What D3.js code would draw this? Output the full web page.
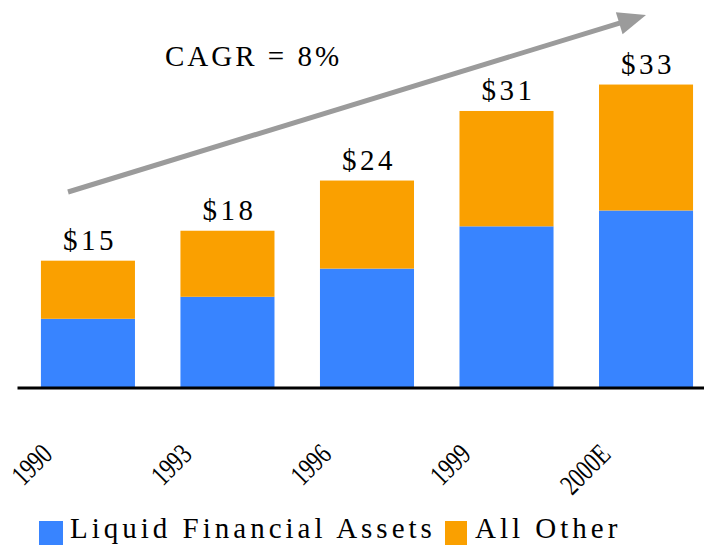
<!DOCTYPE html>
<html>
<head>
<meta charset="utf-8">
<script src="https://cdn.jsdelivr.net/npm/d3@7"></script>
<style>
	body { margin: 0; background: #fff; }
</style>
</head>
<body>
<div id="vis"></div>
<script>
const FRAME_WIDTH = 704;
const FRAME_HEIGHT = 545;
const BASELINE = 387.5;
const SERIF = "'Liberation Serif', 'Times New Roman', Times, serif";

// data
const YEARS = ["1990", "1993", "1996", "1999", "2000E"];
const LIQUID = [7.8, 10.3, 13.5, 18.3, 20.1];
const OTHER = [6.6, 7.5, 10.0, 13.1, 14.3];
const TOTAL_LABELS = ["$15", "$18", "$24", "$31", "$33"];
const SERIES = ["Liquid Financial Assets", "All Other"];
const COLORS = ["#3884FF", "#FAA000"];
const CAGR_LABEL = "CAGR = 8%";

const FRAME = d3.select("#vis")
	.append("svg")
	.attr("width", FRAME_WIDTH)
	.attr("height", FRAME_HEIGHT)
	.style("font-family", SERIF);

const rows = YEARS.map((y, i) => ({ year: y, liquid: LIQUID[i], other: OTHER[i], label: TOTAL_LABELS[i] }));
const stacked = d3.stack().keys(["liquid", "other"])(rows);

const X_SCALE = d3.scaleBand()
	.domain(YEARS)
	.range([17, 704])
	.paddingInner(0.326)
	.paddingOuter(0.125)
	.align(0.686);

const Y_SCALE = d3.scaleLinear()
	.domain([0, 44])
	.range([BASELINE, 0]);

// bars
FRAME.selectAll(".layer")
	.data(stacked)
	.enter()
	.append("g")
	.attr("fill", (d, i) => COLORS[i])
	.selectAll("rect")
	.data((d) => d)
	.enter()
	.append("rect")
	.attr("x", (d) => X_SCALE(d.data.year))
	.attr("y", (d) => Y_SCALE(d[1]))
	.attr("width", X_SCALE.bandwidth())
	.attr("height", (d) => Y_SCALE(d[0]) - Y_SCALE(d[1]));

// total labels
FRAME.selectAll(".total")
	.data(rows)
	.enter()
	.append("text")
	.attr("x", (d) => X_SCALE(d.year) + X_SCALE.bandwidth() / 2 + 2)
	.attr("y", (d) => Y_SCALE(d.liquid + d.other) - 11)
	.attr("text-anchor", "middle")
	.style("font-family", SERIF)
	.style("font-size", "29px")
	.style("letter-spacing", "3.5px")
	.text((d) => d.label);

// x axis
const X_AXIS = FRAME.append("g")
	.attr("transform", `translate(0, ${BASELINE})`)
	.call(d3.axisBottom(X_SCALE).tickSize(0).tickSizeOuter(0));

X_AXIS.attr("font-family", null);

X_AXIS.select(".domain")
	.attr("stroke", "#000")
	.attr("stroke-width", 3);

// condensed, rotated year labels
X_AXIS.selectAll(".tick text")
	.attr("font-size", null)
	.style("font-family", SERIF)
	.style("font-size", "29px")
	.attr("fill", "#000")
	.attr("text-anchor", "end")
	.attr("dy", null)
	.attr("y", 0)
	.attr("transform", `translate(${-34}, ${456 - BASELINE}) rotate(-45) scale(0.75, 1)`);

// CAGR arrow
const ARROW_START = [68, 192];
const ARROW_TIP = [646, 15];
const dx = ARROW_TIP[0] - ARROW_START[0];
const dy = ARROW_TIP[1] - ARROW_START[1];
const len = Math.sqrt(dx * dx + dy * dy);
const ux = dx / len, uy = dy / len;
const HEAD_LEN = 28, HEAD_HALF = 11.5;
const base = [ARROW_TIP[0] - ux * HEAD_LEN, ARROW_TIP[1] - uy * HEAD_LEN];

FRAME.append("line")
	.attr("x1", ARROW_START[0])
	.attr("y1", ARROW_START[1])
	.attr("x2", base[0] + ux * 2)
	.attr("y2", base[1] + uy * 2)
	.attr("stroke", "#9b9b9b")
	.attr("stroke-width", 5);

FRAME.append("polygon")
	.attr("points", [
		ARROW_TIP,
		[base[0] - uy * HEAD_HALF, base[1] + ux * HEAD_HALF],
		[base[0] + uy * HEAD_HALF, base[1] - ux * HEAD_HALF]
	].map((p) => p.join(",")).join(" "))
	.attr("fill", "#9b9b9b");

FRAME.append("text")
	.attr("x", 165)
	.attr("y", 66)
	.style("font-family", SERIF)
	.style("font-size", "29px")
	.style("letter-spacing", "3px")
	.text(CAGR_LABEL);

// legend
const LEGEND_X = [39, 445];
const legend = FRAME.selectAll(".legend")
	.data(SERIES)
	.enter()
	.append("g")
	.attr("transform", (d, i) => `translate(${LEGEND_X[i]}, 521)`);

legend.append("rect")
	.attr("width", (d, i) => i === 0 ? 24 : 22)
	.attr("height", 24)
	.attr("fill", (d, i) => COLORS[i]);

legend.append("text")
	.attr("x", (d, i) => i === 0 ? 31 : 30)
	.attr("y", 17)
	.style("font-family", SERIF)
	.style("font-size", "29px")
	.style("letter-spacing", "4px")
	.text((d) => d);
</script>
</body>
</html>
